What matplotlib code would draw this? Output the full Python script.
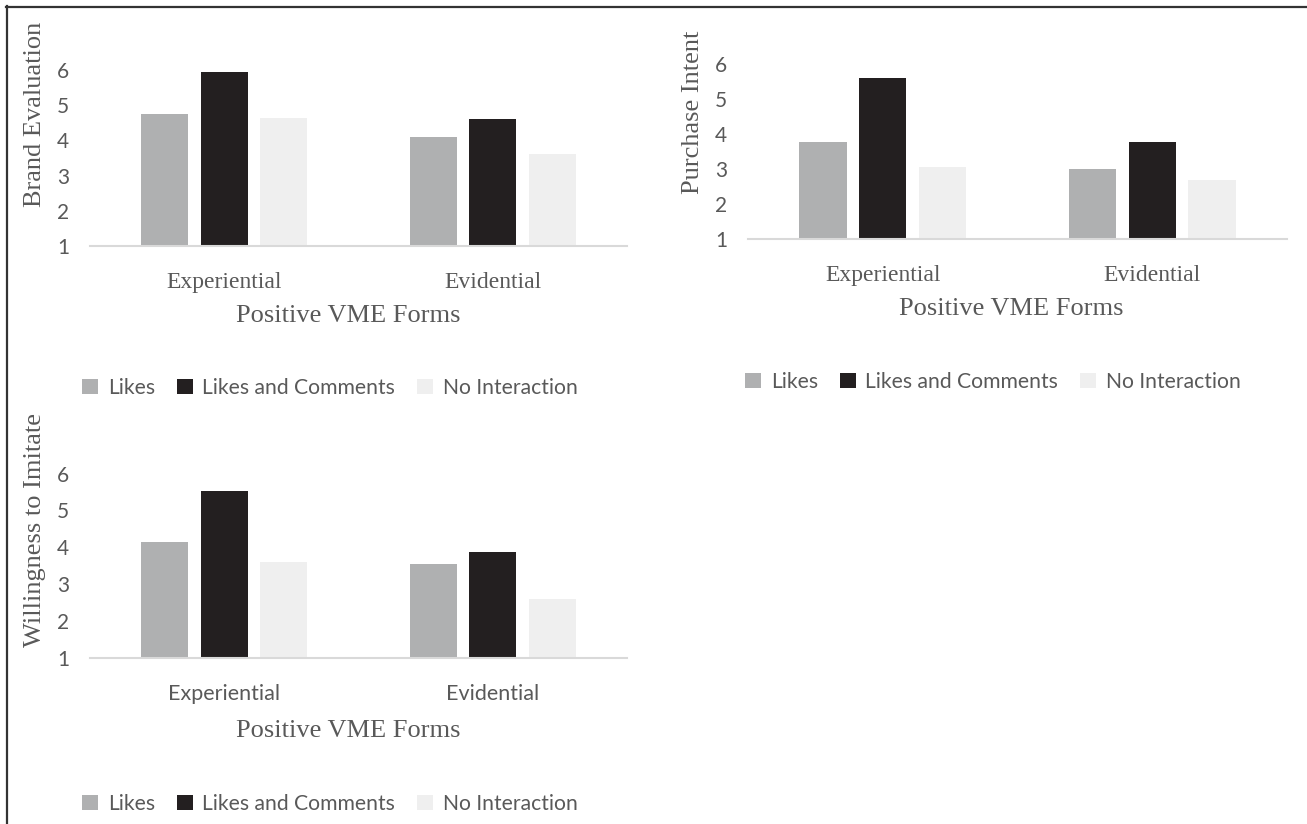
import matplotlib.pyplot as plt
import numpy as np
from matplotlib.patches import Patch
from matplotlib.lines import Line2D

# data
forms = ['Experiential', 'Evidential']
series = ['Likes', 'Likes and Comments', 'No Interaction']
brand_eval = {'Likes': [4.75, 4.1], 'Likes and Comments': [5.95, 4.6], 'No Interaction': [4.63, 3.6]}
purchase = {'Likes': [3.77, 3.0], 'Likes and Comments': [5.6, 3.77], 'No Interaction': [3.05, 2.68]}
imitate = {'Likes': [4.14, 3.54], 'Likes and Comments': [5.52, 3.87], 'No Interaction': [3.6, 2.59]}
yticks = [1, 2, 3, 4, 5, 6]

colors = {'Likes': '#afb0b1', 'Likes and Comments': '#231f20', 'No Interaction': '#efefef'}
txt = '#595959'
W, H = 1307, 824

fig = plt.figure(figsize=(W / 100, H / 100), dpi=100)


def box(x0, x1, y_base, y_top):
    # pixel coords (top-left origin) -> axes rect
    return [x0 / W, 1 - y_base / H, (x1 - x0) / W, (y_base - y_top) / H]


def bars(ax, vals, cat_font):
    x = np.arange(len(forms))
    width, step = 0.175, 0.2216
    for i, s in enumerate(series):
        ax.bar(x + (i - 1) * step, np.array(vals[s]) - 1, width, bottom=1,
               color=colors[s], zorder=2)
    ax.set_xlim(-0.5, 1.5)
    ax.set_ylim(1, 6)
    ax.set_yticks(yticks)
    ax.set_yticklabels([str(t) for t in yticks], family='Lato', fontsize=15, color=txt)
    ax.set_xticks(x)
    ax.set_xticklabels(forms, color=txt, **cat_font)
    ax.tick_params(axis='y', length=0, pad=15)
    ax.tick_params(axis='x', length=0, pad=19)
    for sp in ['top', 'right', 'left']:
        ax.spines[sp].set_visible(False)
    ax.spines['bottom'].set_color('#d9d9d9')
    ax.spines['bottom'].set_linewidth(1.5)
    ax.patch.set_alpha(0)


def legend(cx, cy):
    handles = [Patch(facecolor=colors[s], edgecolor='none') for s in series]
    fig.legend(handles, series, loc='center', bbox_to_anchor=(cx / W, 1 - cy / H),
               ncol=3, frameon=False, handlelength=0.75, handleheight=0.75,
               handletextpad=0.45, columnspacing=1.05,
               prop={'family': 'Lato', 'size': 15.2}, labelcolor=txt)


serif = {'family': 'Liberation Serif', 'fontsize': 17}
sans = {'family': 'Lato', 'fontsize': 15.5}

# Brand Evaluation
ax1 = fig.add_axes(box(90, 627, 246, 70))
bars(ax1, brand_eval, serif)
fig.text(35 / W, 1 - 114 / H, 'Brand Evaluation', rotation=90, ha='center', va='center',
         family='Liberation Serif', fontsize=19, color=txt)
fig.text(348 / W, 1 - 316 / H, 'Positive VME Forms', ha='center', va='center',
         family='Liberation Serif', fontsize=19, color=txt)
legend(330, 388)

# Purchase Intent
ax2 = fig.add_axes(box(748, 1287, 238.7, 64))
bars(ax2, purchase, serif)
fig.text(693 / W, 1 - 112 / H, 'Purchase Intent', rotation=90, ha='center', va='center',
         family='Liberation Serif', fontsize=19, color=txt)
fig.text(1011 / W, 1 - 309 / H, 'Positive VME Forms', ha='center', va='center',
         family='Liberation Serif', fontsize=19, color=txt)
legend(993, 382)

# Willingness to Imitate
ax3 = fig.add_axes(box(90, 627, 657.7, 473.7))
bars(ax3, imitate, sans)
fig.text(35 / W, 1 - 530 / H, 'Willingness to Imitate', rotation=90, ha='center', va='center',
         family='Liberation Serif', fontsize=19, color=txt)
fig.text(348 / W, 1 - 731 / H, 'Positive VME Forms', ha='center', va='center',
         family='Liberation Serif', fontsize=19, color=txt)
legend(330, 804)

# frame along the top and left edges
fig.add_artist(Line2D([6 / W, 1], [1 - 6.5 / H, 1 - 6.5 / H], color='#333333', lw=1.6))
fig.add_artist(Line2D([6.5 / W, 6.5 / W], [0, 1 - 6 / H], color='#333333', lw=1.6))

fig.savefig('out.png', dpi=100)
